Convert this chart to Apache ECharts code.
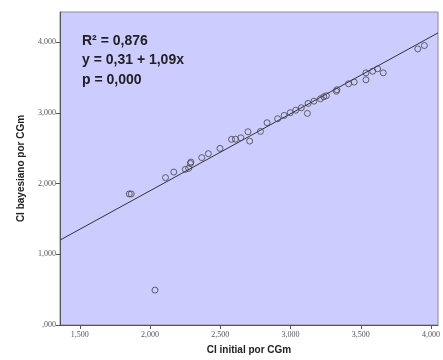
<!DOCTYPE html>
<html>
<head>
<meta charset="utf-8">
<script src="https://cdn.jsdelivr.net/npm/echarts@6/dist/echarts.min.js"></script>
<style>
  html, body { margin: 0; padding: 0; background: #fff; }
  #chart { width: 443px; height: 360px; }
</style>
</head>
<body>
<div id="chart"></div>
<script>
// CI initial (x) vs CI bayesiano (y)
var ciInitial = [1.852, 1.866, 2.035, 2.110, 2.169, 2.251, 2.275, 2.287, 2.291, 2.368,
  2.415, 2.498, 2.580, 2.608, 2.646, 2.697, 2.709, 2.786, 2.833, 2.908,
  2.955, 2.998, 3.037, 3.077, 3.120, 3.125, 3.167, 3.213, 3.237, 3.255,
  3.326, 3.330, 3.413, 3.453, 3.537, 3.537, 3.585, 3.620, 3.660, 3.906, 3.953];
var ciBayes = [1.855, 1.855, 0.494, 2.086, 2.165, 2.203, 2.218, 2.287, 2.306, 2.369,
  2.425, 2.500, 2.627, 2.630, 2.650, 2.735, 2.603, 2.740, 2.863, 2.919,
  2.966, 3.005, 3.040, 3.075, 2.995, 3.136, 3.168, 3.202, 3.230, 3.245,
  3.309, 3.330, 3.414, 3.438, 3.470, 3.569, 3.592, 3.626, 3.569, 3.908, 3.955];

// fitted line as drawn (intercept, slope)
var fit = [-0.28, 1.09];

var xTicks = [1.5, 2.0, 2.5, 3.0, 3.5, 4.0];
var yTicks = [0, 1, 2, 3, 4];
var statLines = ['R² = 0,876', 'y = 0,31 + 1,09x', 'p = 0,000'];

var xMin = 1.359, xMax = 4.05;

var points = ciInitial.map(function (v, i) { return [v, ciBayes[i]]; });
var fitLine = [[xMin, fit[0] + fit[1] * xMin], [xMax, fit[0] + fit[1] * xMax]];

function fmt(v) {
  var s = v.toFixed(3).replace('.', ',');
  return s.charAt(0) === '0' ? s.slice(1) : s;
}

var chart = echarts.init(document.getElementById('chart'));

var tickLabel = { color: '#555', fontSize: 8, fontFamily: 'Liberation Serif' };
var titleFont = { color: '#222', fontSize: 10, fontWeight: 'bold', fontFamily: 'Liberation Sans' };

chart.setOption({
  animation: false,
  grid: {
    left: 60, top: 12, right: 2, bottom: 34,
    show: true, backgroundColor: '#ccccff', borderColor: '#8a8aa0', borderWidth: 1
  },
  xAxis: {
    type: 'value', min: xMin, max: xMax,
    name: 'CI initial por CGm', nameLocation: 'middle', nameGap: 20,
    nameTextStyle: titleFont,
    axisLine: { show: true, lineStyle: { color: '#555' } },
    axisTick: { show: true, length: 4, customValues: xTicks, lineStyle: { color: '#555' } },
    axisLabel: Object.assign({ customValues: xTicks, formatter: fmt, margin: 6 }, tickLabel),
    splitLine: { show: false }
  },
  yAxis: {
    type: 'value', min: 0, max: 4.43,
    name: 'CI bayesiano por CGm', nameLocation: 'middle', nameGap: 34,
    nameTextStyle: titleFont,
    axisLine: { show: true, lineStyle: { color: '#555' } },
    axisTick: { show: true, length: 4, customValues: yTicks, lineStyle: { color: '#555' } },
    axisLabel: Object.assign({ customValues: yTicks, formatter: fmt, margin: 4 }, tickLabel),
    splitLine: { show: false }
  },
  graphic: [{
    type: 'text', left: 82, top: 31,
    style: {
      text: statLines.join('\n'),
      fill: '#222', font: 'bold 14px "Liberation Sans"', lineHeight: 19.5
    }
  }],
  series: [{
    type: 'line', data: fitLine, symbol: 'none', silent: true,
    lineStyle: { color: '#333', width: 1 }, z: 1
  }, {
    type: 'scatter', data: points, symbol: 'circle', symbolSize: 6,
    itemStyle: { color: 'rgba(0,0,0,0)', borderColor: '#444', borderWidth: 1 }, z: 2
  }]
});
</script>
</body>
</html>
